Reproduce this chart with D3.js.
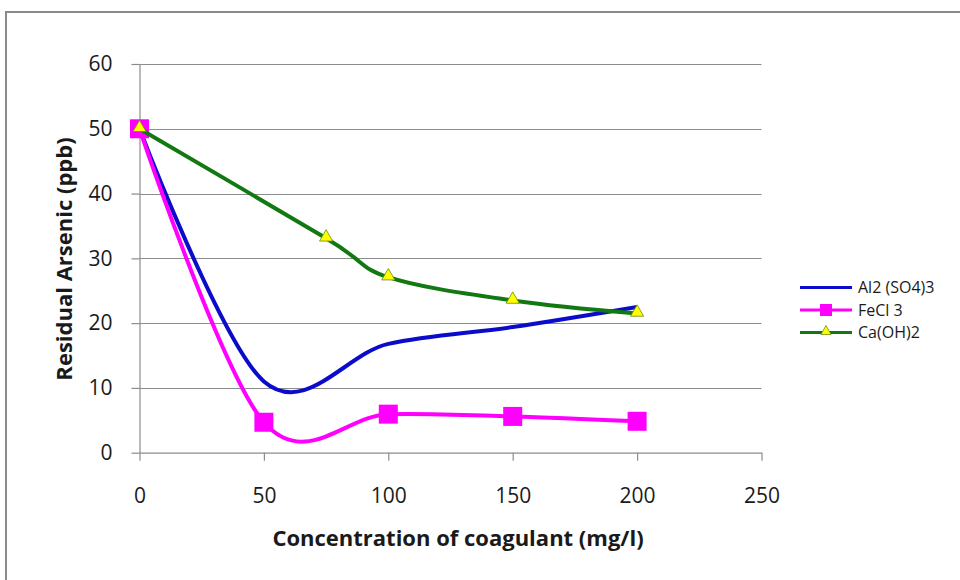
<!DOCTYPE html>
<html>
<head>
<meta charset="utf-8">
<script src="https://cdn.jsdelivr.net/npm/d3@7/dist/d3.min.js"></script>
<style>
  html, body { margin: 0; padding: 0; background: #fff; }
  svg { display: block; }
  text { font-family: "Open Sans", "Noto Sans", sans-serif; fill: #1a1a1a; }
</style>
</head>
<body>
<svg id="chart" width="960" height="580"></svg>
<script>
// Dose of coagulant (mg/l)
const doses = [0, 50, 100, 150, 200];
const dosesCa = [0, 75, 100, 150, 200];

// Residual arsenic (ppb) for each coagulant
const alValues = [50, 11, 16.8, 19.4, 22.5];
const feValues = [50, 4.7, 5.95, 5.6, 4.85];
const caValues = [50, 33.1, 27.1, 23.5, 21.5];

const seriesNames = ["Al2 (SO4)3", "FeCl 3", "Ca(OH)2"];
const xTicks = [0, 50, 100, 150, 200, 250];
const yTicks = [0, 10, 20, 30, 40, 50, 60];

const colors = { al: "#0b0bcc", fe: "#ff00ff", ca: "#127812" };

const svg = d3.select("#chart");

// outer chart frame
svg.append("rect")
  .attr("x", 6).attr("y", 12)
  .attr("width", 1000).attr("height", 700)
  .attr("fill", "none")
  .attr("stroke", "#8a8a8a")
  .attr("stroke-width", 2);

const plot = { left: 139.5, right: 761.5, top: 64, bottom: 452.7 };

const x = d3.scaleLinear().domain([0, 250]).range([plot.left, plot.right]);
const y = d3.scaleLinear().domain([0, 60]).range([plot.bottom, plot.top]);

// horizontal gridlines
svg.append("g")
  .selectAll("line")
  .data(yTicks.filter(d => d > 0))
  .join("line")
  .attr("x1", plot.left).attr("x2", plot.right)
  .attr("y1", d => Math.round(y(d)) + 0.5).attr("y2", d => Math.round(y(d)) + 0.5)
  .attr("stroke", "#8c8c8c").attr("stroke-width", 1);

// axes
const yAxis = svg.append("g")
  .attr("transform", `translate(${plot.left},0)`)
  .call(d3.axisLeft(y).tickValues(yTicks).tickSize(8).tickPadding(19).tickSizeOuter(0));
const xAxis = svg.append("g")
  .attr("transform", `translate(0,${plot.bottom})`)
  .call(d3.axisBottom(x).tickValues(xTicks).tickSize(8).tickPadding(27).tickSizeOuter(0));

[yAxis, xAxis].forEach(g => {
  g.select(".domain").attr("stroke", "#8c8c8c").attr("stroke-width", 1.2);
  g.selectAll(".tick line").attr("stroke", "#8c8c8c").attr("stroke-width", 1.2);
  g.selectAll(".tick text")
    .attr("font-family", "'Open Sans', sans-serif")
    .attr("font-size", 21)
    .attr("fill", "#222");
});

// smooth series lines
const line = (xs) => d3.line()
  .x((d, i) => x(xs[i]))
  .y(d => y(d))
  .curve(d3.curveCardinal.tension(0));

svg.append("path")
  .datum(alValues)
  .attr("d", line(doses))
  .attr("fill", "none").attr("stroke", colors.al).attr("stroke-width", 4);

svg.append("path")
  .datum(feValues)
  .attr("d", line(doses))
  .attr("fill", "none").attr("stroke", colors.fe).attr("stroke-width", 4);

const sq = 19;
svg.append("g")
  .selectAll("rect")
  .data(feValues)
  .join("rect")
  .attr("x", (d, i) => x(doses[i]) - sq / 2)
  .attr("y", d => y(d) - sq / 2)
  .attr("width", sq).attr("height", sq)
  .attr("fill", colors.fe);

svg.append("path")
  .datum(caValues)
  .attr("d", line(dosesCa))
  .attr("fill", "none").attr("stroke", colors.ca).attr("stroke-width", 4);

const tri = d3.symbol().type(d3.symbolTriangle).size(75);
svg.append("g")
  .selectAll("path")
  .data(caValues)
  .join("path")
  .attr("transform", (d, i) => `translate(${x(dosesCa[i])},${y(d) - 1})`)
  .attr("d", tri)
  .attr("fill", "#ffff00")
  .attr("stroke", "#6a8a10").attr("stroke-width", 0.8);

// axis titles
svg.append("text")
  .attr("x", 458).attr("y", 546)
  .attr("text-anchor", "middle")
  .attr("font-size", 22).attr("font-weight", "bold")
  .text("Concentration of coagulant (mg/l)");

svg.append("text")
  .attr("transform", "translate(72,259) rotate(-90)")
  .attr("text-anchor", "middle")
  .attr("font-size", 22).attr("font-weight", "bold")
  .text("Residual Arsenic (ppb)");

// legend
const legend = svg.append("g");
const legendRows = [
  { name: seriesNames[0], color: colors.al, marker: null },
  { name: seriesNames[1], color: colors.fe, marker: "square" },
  { name: seriesNames[2], color: colors.ca, marker: "triangle" }
];
legendRows.forEach((r, i) => {
  const ly = 287.5 + i * 22.5;
  legend.append("line")
    .attr("x1", 800).attr("x2", 852).attr("y1", ly).attr("y2", ly)
    .attr("stroke", r.color).attr("stroke-width", 3);
  if (r.marker === "square") {
    legend.append("rect")
      .attr("x", 826 - 6).attr("y", ly - 6).attr("width", 12).attr("height", 12)
      .attr("fill", r.color);
  } else if (r.marker === "triangle") {
    legend.append("path")
      .attr("transform", `translate(826,${ly - 1})`)
      .attr("d", d3.symbol().type(d3.symbolTriangle).size(45))
      .attr("fill", "#ffff00").attr("stroke", "#6a8a10").attr("stroke-width", 0.8);
  }
  legend.append("text")
    .attr("x", 858).attr("y", ly + 5.5)
    .attr("font-size", 16)
    .text(r.name);
});
</script>
</body>
</html>
